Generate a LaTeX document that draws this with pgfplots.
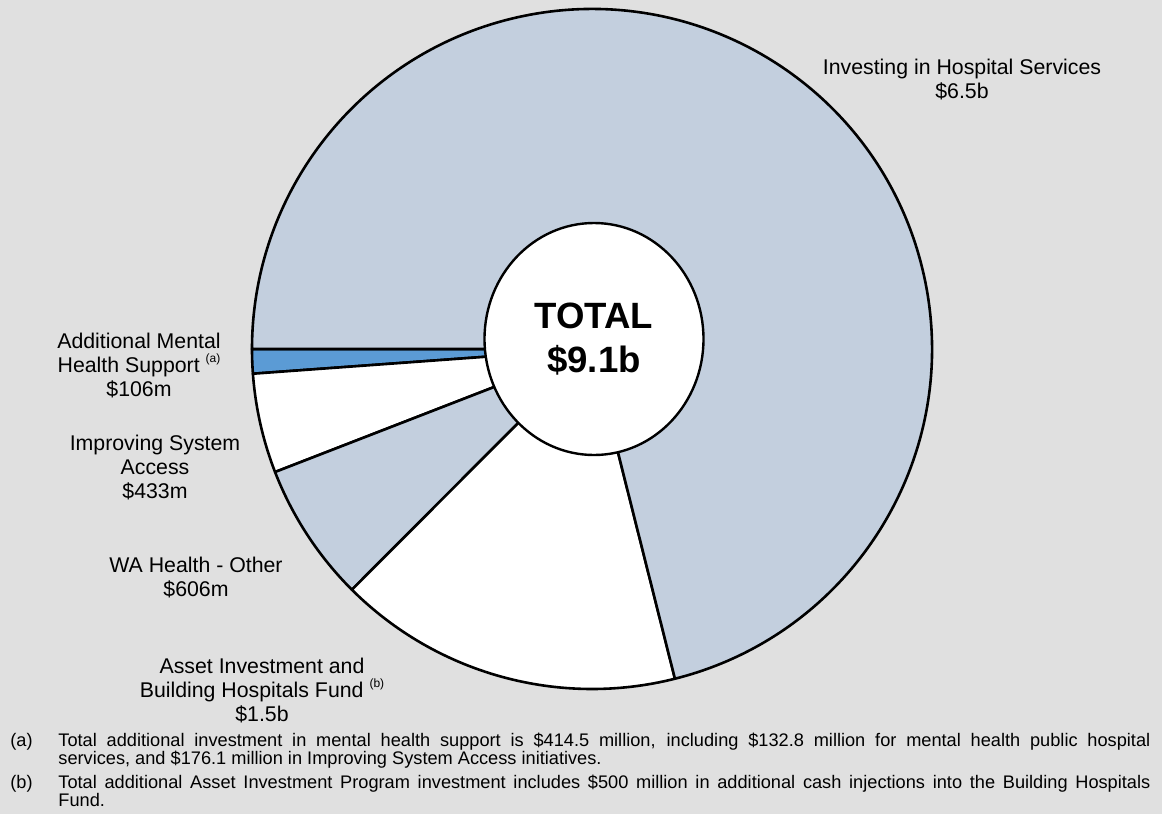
\documentclass[border=0pt]{standalone}
\usepackage{pgfplots}
\usepackage{pgfplotstable}
\pgfplotsset{compat=1.18}
\usepackage{fontspec}
\setmainfont{Liberation Sans}

\definecolor{bgcol}{HTML}{E0E0E0}
\definecolor{slice0}{HTML}{5B9BD5}
\definecolor{slice1}{HTML}{FFFFFF}
\definecolor{slice2}{HTML}{C3CFDE}
\definecolor{slice3}{HTML}{FFFFFF}
\definecolor{slice4}{HTML}{C3CFDE}

\newcommand\lbl{\fontsize{10.65}{12}\selectfont}
\newcommand\fnt{\fontsize{9.1}{9}\selectfont}
\newcommand\fnmark[1]{\raisebox{0.9ex}{\fontsize{6}{6}\selectfont #1}}

% $m, drawn from 9 o'clock going down
\pgfplotstableread{
part value
mental 106
access 433
other 606
asset 1500
hospital 6500
}\piedata

\begin{document}
\begin{tikzpicture}
% total of all parts
\gdef\tot{0}
\foreach \i in {0,...,4}{%
  \pgfplotstablegetelem{\i}{value}\of\piedata
  \pgfmathsetmacro\newtot{\tot+\pgfplotsretval}%
  \xdef\tot{\newtot}%
}
\begin{axis}[x=0.5pt, y=0.5pt, y dir=reverse,
  xmin=0, xmax=1162, ymin=0, ymax=814,
  hide axis, clip=false]
\fill[bgcol] (axis cs:0,0) rectangle (axis cs:1162,814);

% slices (overlay: arc control points would widen the bounding box)
\gdef\cum{0}
\foreach \i in {0,...,4}{%
  \pgfplotstablegetelem{\i}{value}\of\piedata
  \pgfmathsetmacro\angA{180+360*(\cum/\tot)}%
  \pgfmathsetmacro\newcum{\cum+\pgfplotsretval}%
  \pgfmathsetmacro\angB{180+360*(\newcum/\tot)}%
  \xdef\cum{\newcum}%
  \edef\temp{\noexpand\filldraw[overlay, fill=slice\i, draw=black, line width=1.3pt, line join=round]
    (axis cs:592,349) -- ++(\angA:170pt)
    arc[start angle=\angA, end angle=\angB, radius=170pt] -- cycle;}%
  \temp
}
\filldraw[overlay, fill=white, draw=black, line width=1.2pt] (axis cs:594,339) ellipse[x radius=54.75pt, y radius=58pt];

\node[align=center, font=\fontsize{18.3}{22}\selectfont\bfseries] at (axis cs:594,339) {TOTAL\\\$9.1b};

\node[align=center, font=\lbl, inner sep=0] at (axis cs:962,80) {Investing in Hospital Services\\\$6.5b};
\node[align=center, font=\lbl, inner sep=0] at (axis cs:139,366) {Additional Mental\\Health Support \fnmark{(a)}\\\$106m};
\node[align=center, font=\lbl, inner sep=0] at (axis cs:155,468) {Improving System\\Access\\\$433m};
\node[align=center, font=\lbl, inner sep=0] at (axis cs:196,578) {WA Health - Other\\\$606m};
\node[align=center, font=\lbl, inner sep=0] at (axis cs:262,691) {Asset Investment and\\Building Hospitals Fund \fnmark{(b)}\\\$1.5b};

\node[anchor=north west, font=\fnt, inner sep=0] at (axis cs:10,733) {(a)};
\node[anchor=north west, font=\fnt, inner sep=0, text width=546pt, align=justify] at (axis cs:58,733)
  {Total additional investment in mental health support is \$414.5~million, including \$132.8~million for mental health public hospital\linebreak services, and \$176.1 million in Improving System Access initiatives.};
\node[anchor=north west, font=\fnt, inner sep=0] at (axis cs:10,775) {(b)};
\node[anchor=north west, font=\fnt, inner sep=0, text width=546pt, align=justify] at (axis cs:58,775)
  {Total additional Asset Investment Program investment includes \$500 million in additional cash injections into the Building Hospitals\linebreak Fund.};
\end{axis}
\end{tikzpicture}
\end{document}
